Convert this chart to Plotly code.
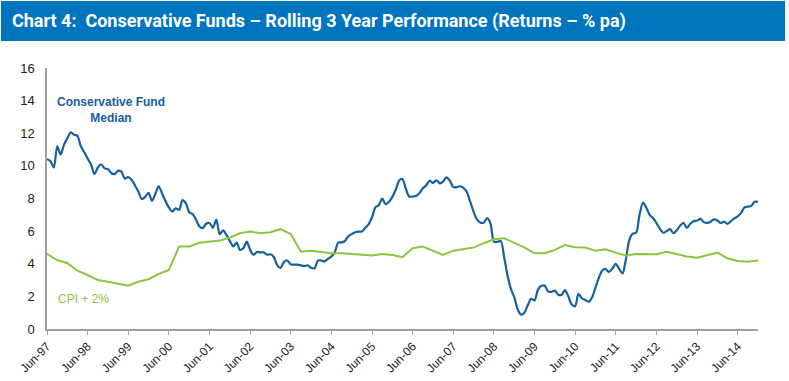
import plotly.graph_objects as go
import pandas as pd

# Conservative Fund Median, monthly from Jun-97 to Dec-14 (% pa)
median_fund = [
    10.41, 10.3, 9.9, 11.2, 10.7, 11.3, 11.7, 12.05, 11.9, 11.85,
    11.2, 10.85, 10.45, 10.1, 9.5, 9.9, 10.1, 9.85, 9.8, 9.55,
    9.5, 9.7, 9.65, 9.22, 9.32, 9.15, 8.8, 8.42, 7.96, 8.1,
    8.35, 7.85, 8.3, 8.75, 8.3, 7.85, 7.45, 7.2, 7.4, 7.3,
    7.9, 7.7, 7.15, 7.05, 6.69, 6.3, 6.18, 6.45, 6.5, 6.2,
    6.7, 5.8, 6.05, 5.75, 5.4, 5.06, 5.3, 4.85, 4.95, 5.36,
    4.85, 4.55, 4.72, 4.7, 4.7, 4.55, 4.58, 4.4, 3.9, 3.75,
    4.1, 4.2, 3.97, 3.95, 3.95, 3.9, 3.85, 3.9, 3.75, 3.72,
    4.2, 4.2, 4.15, 4.3, 4.45, 4.7, 5.3, 5.3, 5.4, 5.7,
    5.82, 5.93, 5.97, 5.97, 6.2, 6.42, 6.85, 7.45, 7.6, 8.0,
    7.65, 7.8, 8.1, 8.55, 9.1, 9.2, 8.6, 8.12, 8.12, 8.15,
    8.33, 8.63, 8.8, 9.1, 8.95, 9.12, 8.93, 9.03, 9.3, 9.1,
    8.7, 8.7, 8.75, 8.65, 8.4, 7.8, 7.2, 6.7, 6.52, 6.52,
    6.8, 6.48, 5.35, 5.34, 5.4, 4.4, 3.3, 2.45, 1.95, 1.2,
    0.88, 1.0, 1.45, 1.85, 1.75, 2.4, 2.65, 2.65, 2.3, 2.28,
    2.35, 2.1, 2.1, 2.38, 2.0, 1.5, 1.4, 2.15, 1.88, 1.78,
    1.67, 1.95, 2.55, 3.15, 3.6, 3.68, 3.5, 3.7, 4.0, 3.7,
    3.4, 4.3, 5.45, 5.85, 5.9, 7.0, 7.75, 7.45, 7.0, 6.8,
    6.5, 6.15, 5.9, 6.0, 6.12, 5.87, 6.05, 6.35, 6.5, 6.2,
    6.45, 6.6, 6.65, 6.75, 6.55, 6.5, 6.58, 6.72, 6.65, 6.5,
    6.58, 6.45, 6.6, 6.78, 6.9, 7.1, 7.45, 7.5, 7.55, 7.8,
    7.8,
]

# CPI + 2%, quarterly from Jun-97 to Dec-14 (% pa)
cpi_plus_2 = [
    4.6, 4.23, 4.03, 3.58, 3.31, 3.0, 2.9, 2.76, 2.66, 2.9,
    3.05, 3.37, 3.62, 5.05, 5.05, 5.29, 5.36, 5.42, 5.6, 5.87,
    5.97, 5.87, 5.93, 6.12, 5.83, 4.74, 4.8, 4.74, 4.64, 4.64,
    4.6, 4.54, 4.5, 4.6, 4.54, 4.4, 4.95, 5.05, 4.8, 4.54,
    4.8, 4.91, 4.99, 5.26, 5.5, 5.56, 5.26, 5.01, 4.64, 4.64,
    4.85, 5.15, 5.01, 4.99, 4.8, 4.89, 4.68, 4.5, 4.6, 4.58,
    4.58, 4.74, 4.6, 4.44, 4.37, 4.54, 4.68, 4.34, 4.17, 4.13,
    4.2,
]

start_month = "1997-06-01"
end_month = "2014-12-01"
y_ticks = [0, 2, 4, 6, 8, 10, 12, 14, 16]

title_text = "Chart 4:  Conservative Funds \u2013 Rolling 3 Year Performance (Returns \u2013 % pa)"
fund_label = "<b>Conservative Fund<br>Median</b>"
cpi_label = "CPI + 2%"

BLUE = "#17609f"
GREEN = "#8cc63e"
BAR = "#0075bf"

fund_dates = pd.date_range(start_month, periods=len(median_fund), freq="MS")
cpi_dates = pd.date_range(start_month, periods=len(cpi_plus_2), freq="3MS")

fig = go.Figure()
fig.add_trace(go.Scatter(
    x=fund_dates, y=median_fund, mode="lines",
    line=dict(color=BLUE, width=2.2, shape="spline", smoothing=0.8),
    hoverinfo="x+y", showlegend=False,
))
fig.add_trace(go.Scatter(
    x=cpi_dates, y=cpi_plus_2, mode="lines",
    line=dict(color=GREEN, width=2.0),
    hoverinfo="x+y", showlegend=False,
))

W, H = 789, 381
ml, mr, mt, mb = 47, 31, 68, 52
pw, ph = W - ml - mr, H - mt - mb

def px_x(x):
    return (x - ml) / pw

def px_y(y):
    return (H - mb - y) / ph

fig.add_shape(type="rect", xref="paper", yref="paper",
              x0=px_x(1), x1=px_x(785), y0=px_y(41), y1=px_y(1),
              fillcolor=BAR, line=dict(width=0), layer="below")

fig.add_annotation(xref="paper", yref="paper", x=px_x(10), y=px_y(21),
                   xanchor="left", yanchor="middle", showarrow=False,
                   text="<b>" + title_text + "</b>",
                   font=dict(family="Roboto", size=18, color="white"))

fig.add_annotation(xref="paper", yref="paper", x=px_x(111), y=px_y(110),
                   xanchor="center", yanchor="middle", showarrow=False,
                   text=fund_label, align="center",
                   font=dict(family="Liberation Sans, Arial", size=12, color=BLUE))

fig.add_annotation(xref="paper", yref="paper", x=px_x(56), y=px_y(299),
                   xanchor="left", yanchor="middle", showarrow=False,
                   text=cpi_label,
                   font=dict(family="Liberation Sans, Arial", size=12, color=GREEN))

fig.update_layout(
    width=W, height=H,
    margin=dict(l=ml, r=mr, t=mt, b=mb, autoexpand=False),
    paper_bgcolor="white", plot_bgcolor="white",
    font=dict(family="Liberation Sans, Arial", size=12, color="#222222"),
)
fig.update_xaxes(
    type="date", range=[start_month, end_month], automargin=False,
    tick0=start_month, dtick="M12", tickformat="%b-%y",
    tickangle=-45, tickfont=dict(size=12),
    showgrid=False, zeroline=False,
    showline=True, linecolor="#a0a0a0", linewidth=1.5,
    ticks="outside", ticklen=4, tickcolor="#a0a0a0", tickwidth=1.2,
)
fig.update_yaxes(
    range=[0, 16], tickvals=y_ticks, automargin=False,
    showgrid=False, zeroline=False,
    showline=True, linecolor="#a0a0a0", linewidth=1.5,
    ticks="", ticklabelstandoff=8, tickfont=dict(size=13),
)

fig.write_html("out.html",
               config={"displayModeBar": False},
               post_script="document.body.style.margin='0';document.body.style.padding='0';")
